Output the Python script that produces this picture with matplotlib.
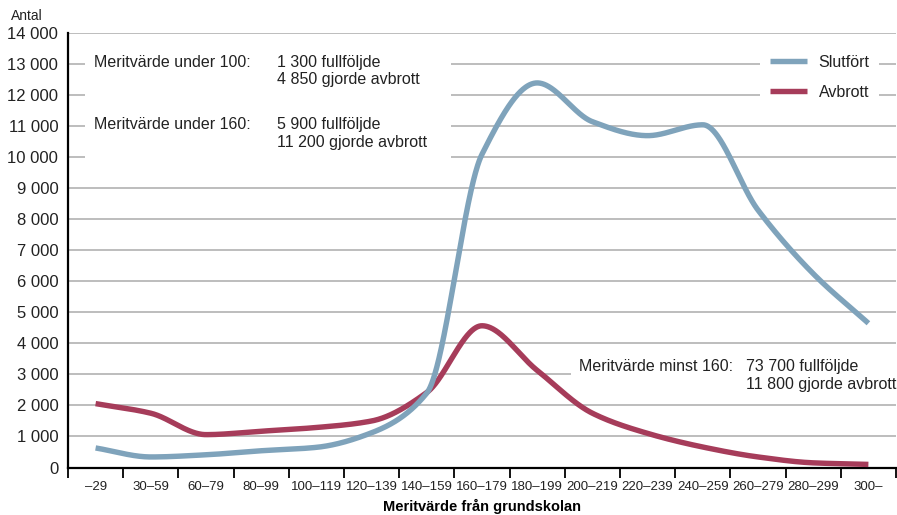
import numpy as np
import matplotlib
matplotlib.use("Agg")
import matplotlib.pyplot as plt
from matplotlib.patches import Rectangle

# ---------------- data ----------------
categories = ["–29", "30–59", "60–79", "80–99", "100–119", "120–139", "140–159",
              "160–179", "180–199", "200–219", "220–239", "240–259", "260–279",
              "280–299", "300–"]
slutfort = [630, 340, 410, 540, 650, 1120, 2400, 10100, 12400, 11150, 10700,
            11050, 8300, 6250, 4650]
avbrott = [2060, 1750, 1060, 1170, 1290, 1500, 2420, 4570, 3130, 1750, 1100,
           660, 340, 150, 100]
series_names = ["Slutfört", "Avbrott"]
y_ticks = list(range(0, 14001, 1000))
note_left = [("Meritvärde under 100:", "1 300 fullföljde", "4 850 gjorde avbrott"),
             ("Meritvärde under 160:", "5 900 fullföljde", "11 200 gjorde avbrott")]
note_right = ("Meritvärde minst 160:", "73 700 fullföljde", "11 800 gjorde avbrott")
x_title = "Meritvärde från grundskolan"
y_title = "Antal"

BLUE = "#7fa3bb"
RED = "#a63c5a"
GRID = "#ababab"
FONT = "Liberation Sans"
plt.rcParams["font.family"] = [FONT, "DejaVu Sans"]


def pchip(x, y, xs):
    x = np.asarray(x, float)
    y = np.asarray(y, float)
    h = np.diff(x)
    delta = np.diff(y) / h
    n = len(x)
    d = np.zeros(n)
    for k in range(1, n - 1):
        if delta[k - 1] * delta[k] > 0:
            w1 = 2 * h[k] + h[k - 1]
            w2 = h[k] + 2 * h[k - 1]
            d[k] = (w1 + w2) / (w1 / delta[k - 1] + w2 / delta[k])
    d[0] = delta[0]
    d[-1] = delta[-1]
    idx = np.clip(np.searchsorted(x, xs) - 1, 0, n - 2)
    t = (xs - x[idx]) / h[idx]
    h00 = 2 * t**3 - 3 * t**2 + 1
    h10 = t**3 - 2 * t**2 + t
    h01 = -2 * t**3 + 3 * t**2
    h11 = t**3 - t**2
    return (h00 * y[idx] + h10 * h[idx] * d[idx] + h01 * y[idx + 1]
            + h11 * h[idx] * d[idx + 1])


W, H = 897, 515
fig = plt.figure(figsize=(W / 100, H / 100), dpi=100)
ax = fig.add_axes([68 / W, 1 - 467.5 / H, (896 - 68) / W, (467.5 - 33.3) / H])

xpos = np.arange(len(categories))
xs = np.linspace(xpos[0], xpos[-1], 1500)

ax.plot(xs, pchip(xpos, avbrott, xs), color=RED, lw=3.9,
        solid_capstyle="butt", zorder=3, label=series_names[1])
ax.plot(xs, pchip(xpos, slutfort, xs), color=BLUE, lw=3.9,
        solid_capstyle="butt", zorder=4, label=series_names[0])

ax.set_xlim(-0.5, len(categories) - 0.5)
ax.set_ylim(0, 14000)

# grid and axes
ax.set_yticks(y_ticks)
ax.set_yticklabels([f"{v:,}".replace(",", " ") for v in y_ticks])
ax.yaxis.grid(True, color=GRID, lw=1.1)
ax.set_axisbelow(True)
ax.tick_params(axis="y", length=0, pad=7, labelsize=12, colors="#222222")

ax.set_xticks(xpos)
ax.set_xticklabels(categories)
ax.set_xticks(np.arange(-0.5, len(categories), 1.0), minor=True)
ax.tick_params(axis="x", which="major", length=0, pad=10, labelsize=9.5,
               colors="#222222")
ax.tick_params(axis="x", which="minor", length=7, width=1.3, color="black",
               direction="out")
for s in ("top", "right"):
    ax.spines[s].set_visible(False)
for s in ("left", "bottom"):
    ax.spines[s].set_linewidth(1.6)
    ax.spines[s].set_color("black")

# white masks behind annotation texts
ax.add_patch(Rectangle((-0.19, 9500), 6.63, 4000, facecolor="white",
                       edgecolor="none", zorder=1))
ax.add_patch(Rectangle((8.61, 2500), 7.0, 1000, facecolor="white",
                       edgecolor="none", zorder=1))

# annotations
fs = 11.5
col1, col2 = -0.03, 3.28
base = [(12925, 12357), (10918, 10348)]
for (lab, a, b), (y1, y2) in zip(note_left, base):
    ax.text(col1, y1, lab, fontsize=fs, va="baseline", ha="left",
            color="#222222", zorder=5)
    ax.text(col2, y1, a, fontsize=fs, va="baseline", ha="left",
            color="#222222", zorder=5)
    ax.text(col2, y2, b, fontsize=fs, va="baseline", ha="left",
            color="#222222", zorder=5)
ax.text(8.76, 3112, note_right[0], fontsize=fs, va="baseline", ha="left",
        color="#222222", zorder=5)
ax.text(11.78, 3112, note_right[1], fontsize=fs, va="baseline", ha="left",
        color="#222222", zorder=5)
ax.text(11.78, 2531, note_right[2], fontsize=fs, va="baseline", ha="left",
        color="#222222", zorder=5)

# legend
handles, labels = ax.get_legend_handles_labels()
leg = ax.legend(handles[::-1], labels[::-1], loc="upper left",
                bbox_to_anchor=(760 / W, 1 - 45 / H),
                bbox_transform=fig.transFigure, frameon=True, fancybox=False,
                facecolor="white", edgecolor="none", framealpha=1,
                fontsize=fs, handlelength=2.35, handletextpad=0.72,
                labelspacing=0.96, borderpad=0.6, borderaxespad=0)
for t in leg.get_texts():
    t.set_color("#222222")
leg.set_zorder(6)

fig.text(11 / W, 1 - 20 / H, y_title, fontsize=10, ha="left", va="baseline",
         color="#222222")
fig.text((68 + 896) / 2 / W, 1 - 511 / H, x_title, fontsize=10.5,
         fontweight="bold", ha="center", va="baseline", color="black")

fig.savefig("out.png", dpi=100)
